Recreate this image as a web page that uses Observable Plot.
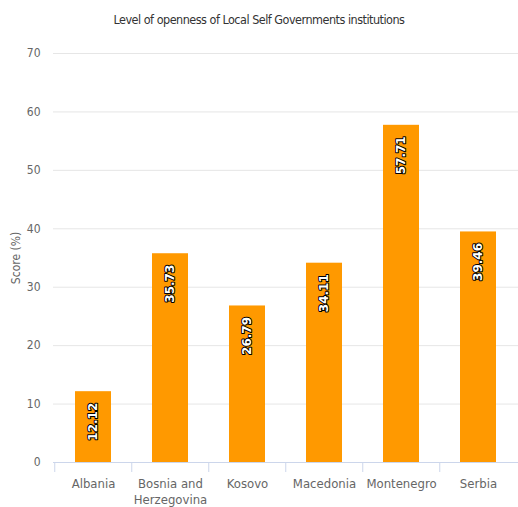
<!DOCTYPE html>
<html>
<head>
<meta charset="utf-8">
<script src="https://cdn.jsdelivr.net/npm/d3@7"></script>
<script src="https://cdn.jsdelivr.net/npm/@observablehq/plot@0.6"></script>
<style>
  body { margin: 0; background: #fff; font-family: "DejaVu Sans Condensed", sans-serif; }
  #title { height: 40px; line-height: 40px; text-align: center; font-size: 12.5px; letter-spacing: -0.5px; color: #333; }
</style>
</head>
<body>
<div id="title">Level of openness of Local Self Governments institutions</div>
<div id="chart"></div>
<script>
const countries = ["Albania", "Bosnia and Herzegovina", "Kosovo", "Macedonia", "Montenegro", "Serbia"];
const scores = [12.12, 35.73, 26.79, 34.11, 57.71, 39.46];
const yTicks = [0, 10, 20, 30, 40, 50, 60, 70];

const data = countries.map((c, i) => ({country: c, score: scores[i]}));

const W = 518, mL = 53, mR = 0;
const step = (W - mL - mR) / countries.length;

const chart = Plot.plot({
  width: W,
  height: 467,
  marginLeft: mL,
  marginRight: mR,
  marginTop: 13,
  marginBottom: 45,
  style: {fontFamily: '"DejaVu Sans Condensed", sans-serif', fontSize: "12px", background: "#fff"},
  x: {domain: countries, paddingInner: 0.53, paddingOuter: 0.265, label: null},
  y: {domain: [0, 70], label: null},
  marks: [
    Plot.gridY(yTicks, {stroke: "#e6e6e6", strokeOpacity: 1}),
    Plot.axisY(yTicks, {tickSize: 0, tickPadding: 13, fill: "#666", fontSize: 12, label: "Score (%)", labelAnchor: "center", labelOffset: 42, labelArrow: "none"}),
    Plot.barY(data, {x: "country", y: "score", fill: "#ff9900"}),
    Plot.ruleY([0], {stroke: "#ccd6eb"}),
    Plot.axisX(countries, {tickSize: 10, stroke: "#ccd6eb", dx: -step / 2, tickFormat: () => "", label: null}),
    Plot.axisX(countries, {tickSize: 0, tickPadding: 13, fill: "#666", fontSize: 13, lineHeight: 1.3, tickFormat: d => d.replace(" and ", " and\n"), label: null}),
    Plot.text(data, {x: "country", y: "score", text: d => d.score.toFixed(2), rotate: -90, textAnchor: "end", dy: 11, fill: "#fff", stroke: "#000", strokeWidth: 2, paintOrder: "stroke", fontWeight: "bold", fontSize: 12, fontFamily: "DejaVu Sans"})
  ]
});
document.getElementById("chart").appendChild(chart);
</script>
</body>
</html>
